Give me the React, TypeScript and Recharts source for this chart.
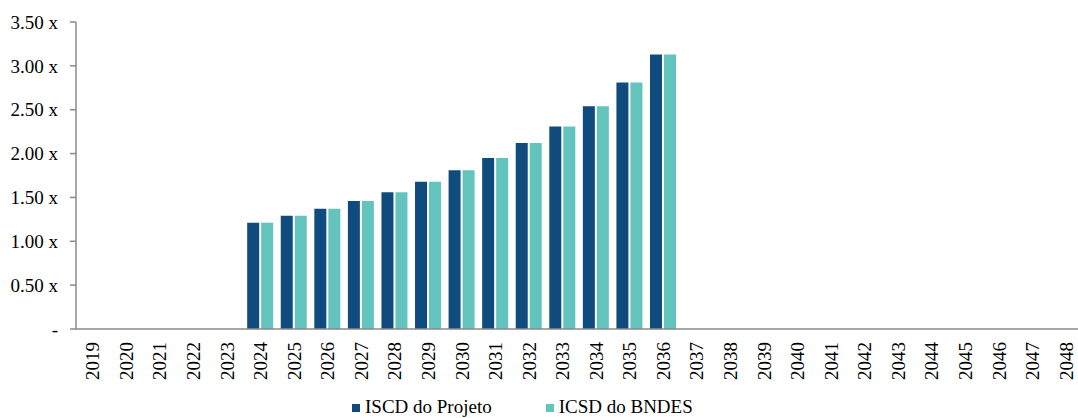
import { Bar, BarChart, Legend, XAxis, YAxis } from "recharts";

const YEARS = [
    "2019", "2020", "2021", "2022", "2023", "2024", "2025", "2026", "2027", "2028",
    "2029", "2030", "2031", "2032", "2033", "2034", "2035", "2036", "2037", "2038",
    "2039", "2040", "2041", "2042", "2043", "2044", "2045", "2046", "2047", "2048",
];

// coverage ratios, years without debt service left empty
const ISCD_PROJETO = [
    null, null, null, null, null, 1.21, 1.29, 1.37, 1.46, 1.56,
    1.68, 1.81, 1.95, 2.12, 2.31, 2.54, 2.81, 3.13, null, null,
    null, null, null, null, null, null, null, null, null, null,
];
const ICSD_BNDES = [
    null, null, null, null, null, 1.21, 1.29, 1.37, 1.46, 1.56,
    1.68, 1.81, 1.95, 2.12, 2.31, 2.54, 2.81, 3.13, null, null,
    null, null, null, null, null, null, null, null, null, null,
];

const Y_TICKS = [0, 0.5, 1, 1.5, 2, 2.5, 3, 3.5];

const SERIES = [
    { key: "projeto", label: "ISCD do Projeto", color: "#0F4C7D" },
    { key: "bndes", label: "ICSD do BNDES", color: "#62C4BD" },
];

const FONT = "'Liberation Serif', 'Times New Roman', serif";
const AXIS_GRAY = "#8a8a8a";

const data = YEARS.map((year, i) => ({ year, projeto: ISCD_PROJETO[i], bndes: ICSD_BNDES[i] }));

function fmtRatio(v: number) {
    return v === 0 ? "-" : `${v.toFixed(2)} x`;
}

function YearTick({ x, y, payload }: { x: number; y: number; payload: { value: string } }) {
    return (
        <text
            x={x}
            y={y}
            transform={`rotate(-90, ${x}, ${y})`}
            textAnchor="end"
            dominantBaseline="central"
            fontFamily={FONT}
            fontSize={19}
            fill="#000"
        >
            {payload.value}
        </text>
    );
}

function LegendRow() {
    return (
        <div
            style={{
                paddingLeft: 352,
                height: 22,
                lineHeight: "22px",
                fontFamily: FONT,
                fontSize: 19,
                color: "#000",
                whiteSpace: "nowrap",
            }}
        >
            {SERIES.map((s, i) => (
                <span key={s.key} style={{ marginLeft: i === 0 ? 0 : 54 }}>
                    <span
                        style={{
                            display: "inline-block",
                            width: 8,
                            height: 8,
                            background: s.color,
                            marginRight: 5,
                            marginBottom: 1.5,
                            verticalAlign: "baseline",
                        }}
                    />
                    {s.label}
                </span>
            ))}
        </div>
    );
}

export default function App() {
    return (
        <div style={{ position: "absolute", left: 0, top: 0, width: 1078, height: 418, overflow: "hidden", background: "#fff" }}>
            <BarChart
                width={1083}
                height={418}
                data={data}
                margin={{ top: 22, right: 0, bottom: 0, left: 0 }}
                barCategoryGap="10%"
                barGap={2}
            >
                <XAxis
                    dataKey="year"
                    interval={0}
                    tickLine={false}
                    tickSize={0}
                    tickMargin={13}
                    height={67}
                    axisLine={{ stroke: AXIS_GRAY, strokeWidth: 1.5 }}
                    tick={(props: any) => <YearTick {...props} />}
                />
                <YAxis
                    width={76}
                    domain={[0, 3.5]}
                    ticks={Y_TICKS}
                    interval={0}
                    tickFormatter={fmtRatio}
                    tickSize={6}
                    tickMargin={12}
                    axisLine={{ stroke: AXIS_GRAY, strokeWidth: 1.5 }}
                    tickLine={{ stroke: AXIS_GRAY, strokeWidth: 1.5 }}
                    tick={{ fontFamily: FONT, fontSize: 19, fill: "#000" }}
                />
                <Legend verticalAlign="bottom" wrapperStyle={{ left: 0, width: 1083 }} content={() => <LegendRow />} />
                {SERIES.map((s) => (
                    <Bar key={s.key} dataKey={s.key} name={s.label} fill={s.color} isAnimationActive={false} />
                ))}
            </BarChart>
        </div>
    );
}
